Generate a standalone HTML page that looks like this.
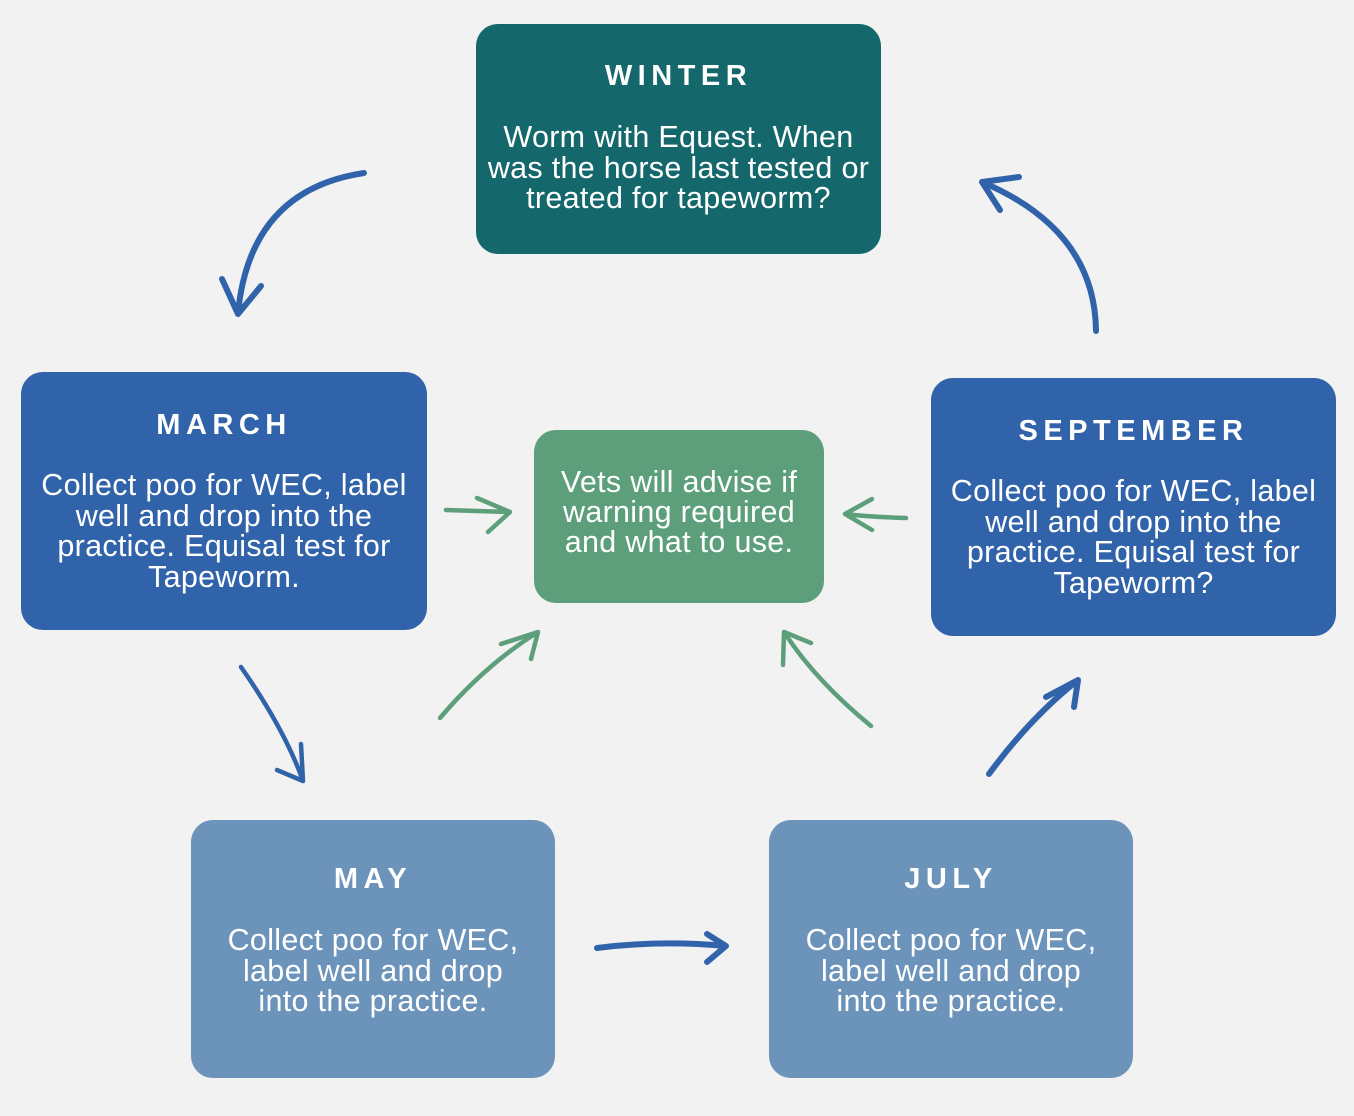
<!DOCTYPE html>
<html><head><meta charset="utf-8"><style>
body{margin:0;width:1354px;height:1116px;background:#f2f2f2;position:relative;overflow:hidden;font-family:"Liberation Sans",sans-serif;color:#fff}
.b{position:absolute;border-radius:22px;text-align:center}
.t{position:absolute;left:-20px;right:-20px;font-weight:bold;font-size:29px;letter-spacing:5.5px;line-height:30px}
.x{position:absolute;left:-20px;right:-20px;font-size:30.5px;line-height:30.7px;letter-spacing:0.3px}
svg{position:absolute;left:0;top:0}
</style></head><body>
<div class="b" style="left:476px;top:24px;width:405px;height:230px;background:#14676b">
<div class="t" style="top:37px">WINTER</div>
<div class="x" style="top:98px">Worm with Equest. When<br>was the horse last tested or<br>treated for tapeworm?</div></div>
<div class="b" style="left:21px;top:372px;width:406px;height:258px;background:#3063a9">
<div class="t" style="top:38px">MARCH</div>
<div class="x" style="top:98px">Collect poo for WEC, label<br>well and drop into the<br>practice. Equisal test for<br>Tapeworm.</div></div>
<div class="b" style="left:534px;top:430px;width:290px;height:173px;background:#5c9f7a">
<div class="x" style="top:37px;line-height:30px">Vets will advise if<br>warning required<br>and what to use.</div></div>
<div class="b" style="left:931px;top:378px;width:405px;height:258px;background:#3063a9">
<div class="t" style="top:38px">SEPTEMBER</div>
<div class="x" style="top:98px">Collect poo for WEC, label<br>well and drop into the<br>practice. Equisal test for<br>Tapeworm?</div></div>
<div class="b" style="left:191px;top:820px;width:364px;height:258px;background:#6c93b9">
<div class="t" style="top:44px">MAY</div>
<div class="x" style="top:105px">Collect poo for WEC,<br>label well and drop<br>into the practice.</div></div>
<div class="b" style="left:769px;top:820px;width:364px;height:258px;background:#6c93b9">
<div class="t" style="top:44px">JULY</div>
<div class="x" style="top:105px">Collect poo for WEC,<br>label well and drop<br>into the practice.</div></div>
<svg width="1354" height="1116" fill="none" stroke-linecap="round" stroke-linejoin="round">
<g stroke="#3063a9" stroke-width="6">
<path d="M364 173 Q250 190 238 313 M222 279 L238 314 L261 286"/>
<path d="M1096 331 Q1095 230 982 182 M1019 177 L982 182 L1000 210"/>
<path d="M597 948 Q660 940 726 946 M707 934 L726 946 L707 962"/>
<path d="M989 774 Q1030 718 1078 680 M1046 697 L1078 680 L1074 707"/>
</g>
<g stroke="#3063a9" stroke-width="4.5">
<path d="M241 667 Q285 730 303 781 M277 770 L303 781 L301 744"/>
</g>
<g stroke="#5c9f7a" stroke-width="4.5">
<path d="M440 718 Q485 665 538 632 M501 644 L538 632 L531 659"/>
<path d="M871 726 Q815 680 784 632 M783 665 L784 632 L811 643"/>
<path d="M446 510 L510 512 M477 498 L510 512 L488 532"/>
<path d="M906 518 Q870 517 845 514 M872 499 L845 514 L872 530"/>
</g>
</svg>
</body></html>
